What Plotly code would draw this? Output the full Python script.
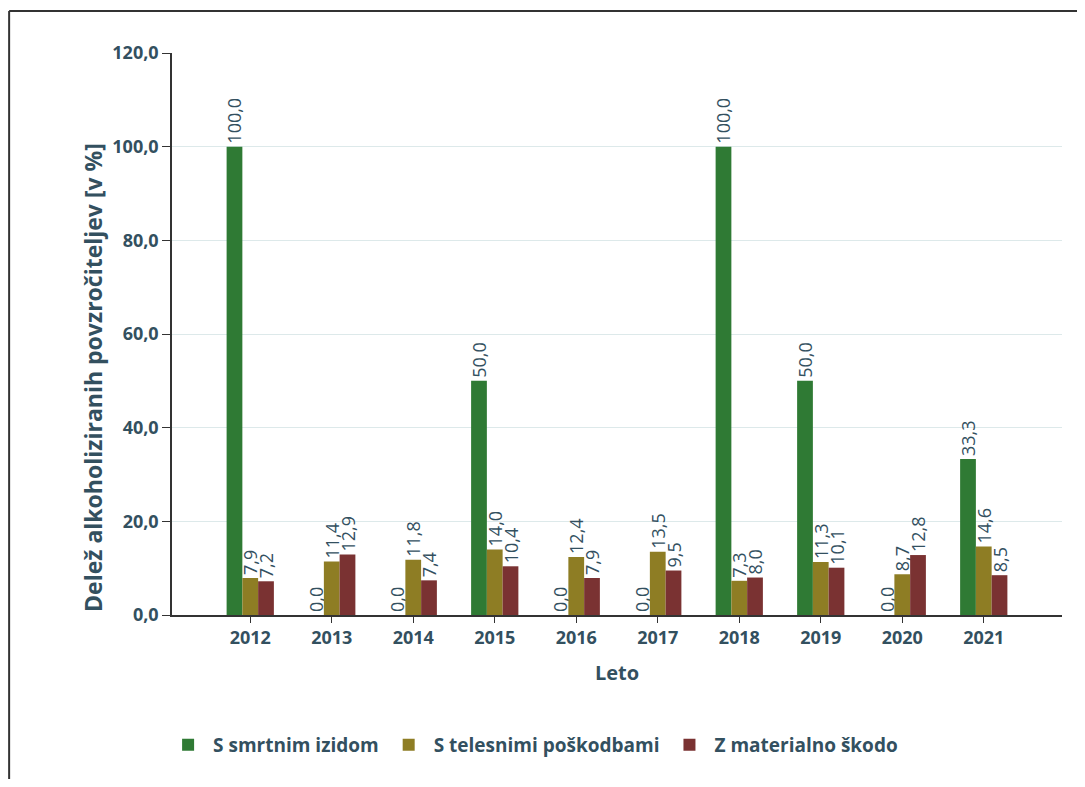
import plotly.graph_objects as go

years = ["2012", "2013", "2014", "2015", "2016", "2017", "2018", "2019", "2020", "2021"]
smrt = [100.0, 0.0, 0.0, 50.0, 0.0, 0.0, 100.0, 50.0, 0.0, 33.3]
telesne = [7.9, 11.4, 11.8, 14.0, 12.4, 13.5, 7.3, 11.3, 8.7, 14.6]
materialna = [7.2, 12.9, 7.4, 10.4, 7.9, 9.5, 8.0, 10.1, 12.8, 8.5]

names = ["S smrtnim izidom", "S telesnimi poškodbami", "Z materialno škodo"]
colors = ["#2f7a34", "#8e7d24", "#7a3232"]

text_col = "#33505f"
font = "Open Sans"

fig = go.Figure()
for name, vals, col in zip(names, [smrt, telesne, materialna], colors):
    fig.add_trace(
        go.Bar(
            name=name,
            x=years,
            y=vals,
            marker=dict(color=col, line=dict(width=0)),
            texttemplate="%{y:.1f}",
            textposition="outside",
            textangle=-90,
            constraintext="none",
            cliponaxis=False,
            textfont=dict(family=font, size=18, color=text_col),
        )
    )

# page body has an 8px margin, so the figure is sized to fit the window
fig.update_layout(
    width=1069,
    height=771,
    barmode="group",
    bargap=0.42,
    bargroupgap=0,
    separators=",.",
    paper_bgcolor="white",
    plot_bgcolor="white",
    margin=dict(l=164, r=15, t=45, b=164),
    font=dict(family=font, color=text_col),
    showlegend=True,
    legend=dict(
        orientation="h",
        x=-0.01,
        y=-0.231,
        xanchor="left",
        yanchor="middle",
        font=dict(size=19, color=text_col, weight="bold"),
        itemwidth=40,
    ),
    xaxis=dict(
        title=dict(text="Leto", font=dict(size=20, weight="bold"), standoff=18),
        range=[-0.96, 9.96],
        showline=True,
        linecolor="#333333",
        linewidth=1.5,
        ticks="outside",
        ticklen=6,
        tickcolor="#333333",
        tickfont=dict(size=18, weight="bold"),
        showgrid=False,
    ),
    yaxis=dict(
        range=[0, 120],
        dtick=20,
        tickformat=".1f",
        showline=True,
        linecolor="#333333",
        linewidth=1.5,
        ticks="outside",
        ticklen=8,
        tickcolor="#333333",
        tickfont=dict(size=18, weight="bold"),
        showgrid=True,
        gridcolor="#dde9ea",
        zeroline=False,
    ),
)

# y title sits a little below the axis centre in the original
fig.add_annotation(
    text="Delež alkoholiziranih povzročiteljev [v %]",
    xref="paper", yref="paper", x=-0.109, y=0.4235,
    textangle=-90, showarrow=False,
    font=dict(size=23, weight="bold", color=text_col),
)

# outer frame of the original image
fig.add_shape(type="line", xref="paper", yref="paper",
              x0=-0.183, x1=1.05, y0=1.0747, y1=1.0747,
              line=dict(color="#333333", width=2))
fig.add_shape(type="line", xref="paper", yref="paper",
              x0=-0.183, x1=-0.183, y0=1.0747, y1=-0.32,
              line=dict(color="#333333", width=2))

fig.write_html("out.html")
